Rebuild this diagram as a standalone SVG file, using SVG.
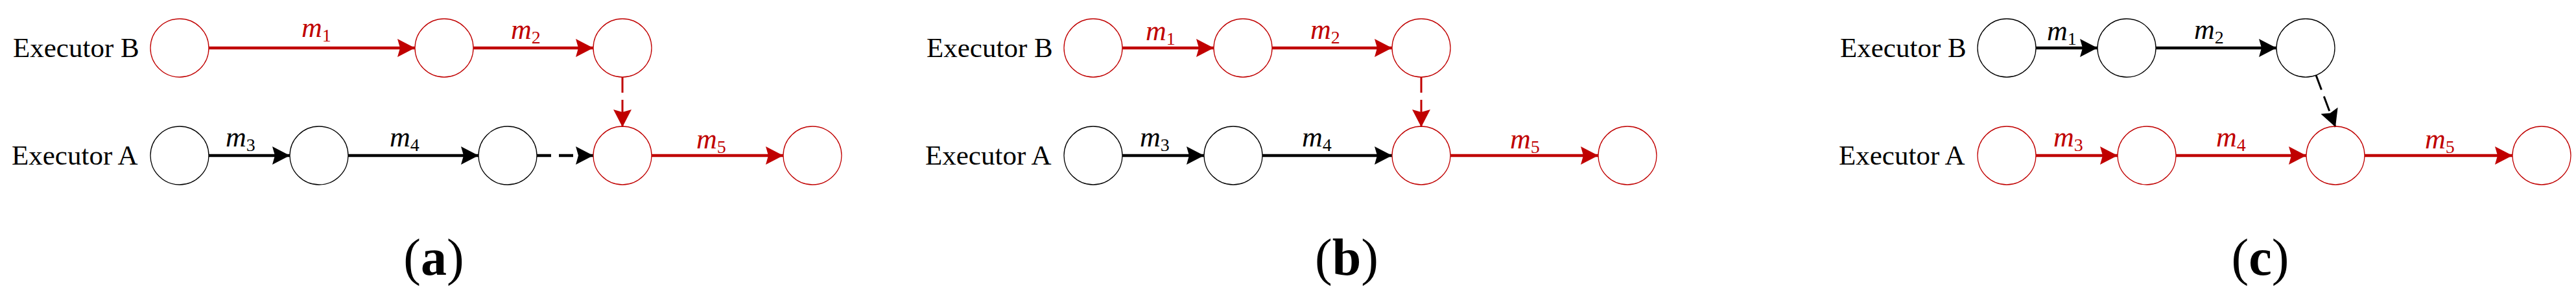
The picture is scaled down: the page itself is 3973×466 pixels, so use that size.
<svg xmlns="http://www.w3.org/2000/svg" width="3973" height="466" viewBox="0 0 3973 466">
<style>
.n{fill:none;stroke-width:1.3}
.k{stroke:#000}.r{stroke:#C00000}
.e{stroke-width:4.5;fill:none}
.d{stroke-width:3;fill:none;stroke-dasharray:24 11}
.t{font-family:"Liberation Serif",serif;font-size:43px;fill:#000}
.m{font-family:"Liberation Serif",serif;font-size:44px;font-style:italic}
.s{font-size:28px;font-style:normal}
.p{font-family:"Liberation Serif",serif;font-size:80px;fill:#000;text-anchor:middle}
.tr{fill:#C00000}.tk{fill:#000}
</style>
<defs>
<marker id="ak" markerUnits="userSpaceOnUse" markerWidth="30" markerHeight="30" refX="27" refY="14" orient="auto"><path d="M0,0 L27,14 L0,28 L4,14 z" fill="#000"/></marker>
<marker id="ar" markerUnits="userSpaceOnUse" markerWidth="30" markerHeight="30" refX="27" refY="14" orient="auto"><path d="M0,0 L27,14 L0,28 L4,14 z" fill="#C00000"/></marker>
</defs>
<g id="labels">
<text class="t" x="20" y="88">Executor B</text><text class="t" x="18" y="254">Executor A</text>
<text class="t" x="1429" y="88">Executor B</text><text class="t" x="1427" y="254">Executor A</text>
<text class="t" x="2838" y="88">Executor B</text><text class="t" x="2836" y="254">Executor A</text>
<text class="p" x="669" y="424">(<tspan font-weight="bold">a</tspan>)</text>
<text class="p" x="2077" y="424">(<tspan font-weight="bold">b</tspan>)</text>
<text class="p" x="3486" y="424">(<tspan font-weight="bold">c</tspan>)</text>
</g>
<g id="connectors">
<!-- a -->
<line class="e r" x1="322" y1="74" x2="640" y2="74" marker-end="url(#ar)"/>
<line class="e r" x1="730" y1="74" x2="915" y2="74" marker-end="url(#ar)"/>
<line class="d r" x1="960" y1="119" x2="960" y2="196" marker-end="url(#ar)"/>
<line class="e k" x1="322" y1="240" x2="447" y2="240" marker-end="url(#ak)"/>
<line class="e k" x1="537" y1="240" x2="738" y2="240" marker-end="url(#ak)"/>
<line class="e k" x1="828" y1="240" x2="915" y2="240" stroke-dasharray="22 12" marker-end="url(#ak)"/>
<line class="e r" x1="1005" y1="240" x2="1208" y2="240" marker-end="url(#ar)"/>
<!-- b -->
<line class="e r" x1="1731" y1="74" x2="1872" y2="74" marker-end="url(#ar)"/>
<line class="e r" x1="1962" y1="74" x2="2147" y2="74" marker-end="url(#ar)"/>
<line class="d r" x1="2192" y1="119" x2="2192" y2="196" marker-end="url(#ar)"/>
<line class="e k" x1="1731" y1="240" x2="1857" y2="240" marker-end="url(#ak)"/>
<line class="e k" x1="1947" y1="240" x2="2147" y2="240" marker-end="url(#ak)"/>
<line class="e r" x1="2237" y1="240" x2="2465" y2="240" marker-end="url(#ar)"/>
<!-- c -->
<line class="e k" x1="3140" y1="74" x2="3235" y2="74" marker-end="url(#ak)"/>
<line class="e k" x1="3325" y1="74" x2="3511" y2="74" marker-end="url(#ak)"/>
<line class="d k" x1="3572" y1="116" x2="3602" y2="196" marker-end="url(#ak)"/>
<line class="e r" x1="3140" y1="240" x2="3266" y2="240" marker-end="url(#ar)"/>
<line class="e r" x1="3356" y1="240" x2="3557" y2="240" marker-end="url(#ar)"/>
<line class="e r" x1="3647" y1="240" x2="3875" y2="240" marker-end="url(#ar)"/>
</g>
<g id="edge-labels">
<text class="m tr" x="465" y="57">m<tspan class="s" dy="7">1</tspan></text>
<text class="m tr" x="788" y="60">m<tspan class="s" dy="7">2</tspan></text>
<text class="m tk" x="348" y="226">m<tspan class="s" dy="7">3</tspan></text>
<text class="m tk" x="601" y="226">m<tspan class="s" dy="7">4</tspan></text>
<text class="m tr" x="1074" y="229">m<tspan class="s" dy="7">5</tspan></text>
<text class="m tr" x="1767" y="62">m<tspan class="s" dy="7">1</tspan></text>
<text class="m tr" x="2021" y="60">m<tspan class="s" dy="7">2</tspan></text>
<text class="m tk" x="1758" y="226">m<tspan class="s" dy="7">3</tspan></text>
<text class="m tk" x="2008" y="226">m<tspan class="s" dy="7">4</tspan></text>
<text class="m tr" x="2329" y="229">m<tspan class="s" dy="7">5</tspan></text>
<text class="m tk" x="3157" y="62">m<tspan class="s" dy="7">1</tspan></text>
<text class="m tk" x="3384" y="60">m<tspan class="s" dy="7">2</tspan></text>
<text class="m tr" x="3167" y="226">m<tspan class="s" dy="7">3</tspan></text>
<text class="m tr" x="3418" y="226">m<tspan class="s" dy="7">4</tspan></text>
<text class="m tr" x="3740" y="229">m<tspan class="s" dy="7">5</tspan></text>
</g>
<g id="a-B1"><circle class="n r" cx="277" cy="74" r="45"/></g>
<g id="a-B2"><circle class="n r" cx="685" cy="74" r="45"/></g>
<g id="a-B3"><circle class="n r" cx="960" cy="74" r="45"/></g>
<g id="a-A1"><circle class="n k" cx="277" cy="240" r="45"/></g>
<g id="a-A2"><circle class="n k" cx="492" cy="240" r="45"/></g>
<g id="a-A3"><circle class="n k" cx="783" cy="240" r="45"/></g>
<g id="a-A4"><circle class="n r" cx="960" cy="240" r="45"/></g>
<g id="a-A5"><circle class="n r" cx="1253" cy="240" r="45"/></g>
<g id="b-B1"><circle class="n r" cx="1686" cy="74" r="45"/></g>
<g id="b-B2"><circle class="n r" cx="1917" cy="74" r="45"/></g>
<g id="b-B3"><circle class="n r" cx="2192" cy="74" r="45"/></g>
<g id="b-A1"><circle class="n k" cx="1686" cy="240" r="45"/></g>
<g id="b-A2"><circle class="n k" cx="1902" cy="240" r="45"/></g>
<g id="b-A3"><circle class="n r" cx="2192" cy="240" r="45"/></g>
<g id="b-A4"><circle class="n r" cx="2510" cy="240" r="45"/></g>
<g id="c-B1"><circle class="n k" cx="3095" cy="74" r="45"/></g>
<g id="c-B2"><circle class="n k" cx="3280" cy="74" r="45"/></g>
<g id="c-B3"><circle class="n k" cx="3556" cy="74" r="45"/></g>
<g id="c-A1"><circle class="n r" cx="3095" cy="240" r="45"/></g>
<g id="c-A2"><circle class="n r" cx="3311" cy="240" r="45"/></g>
<g id="c-A3"><circle class="n r" cx="3602" cy="240" r="45"/></g>
<g id="c-A4"><circle class="n r" cx="3920" cy="240" r="45"/></g>
</svg>
